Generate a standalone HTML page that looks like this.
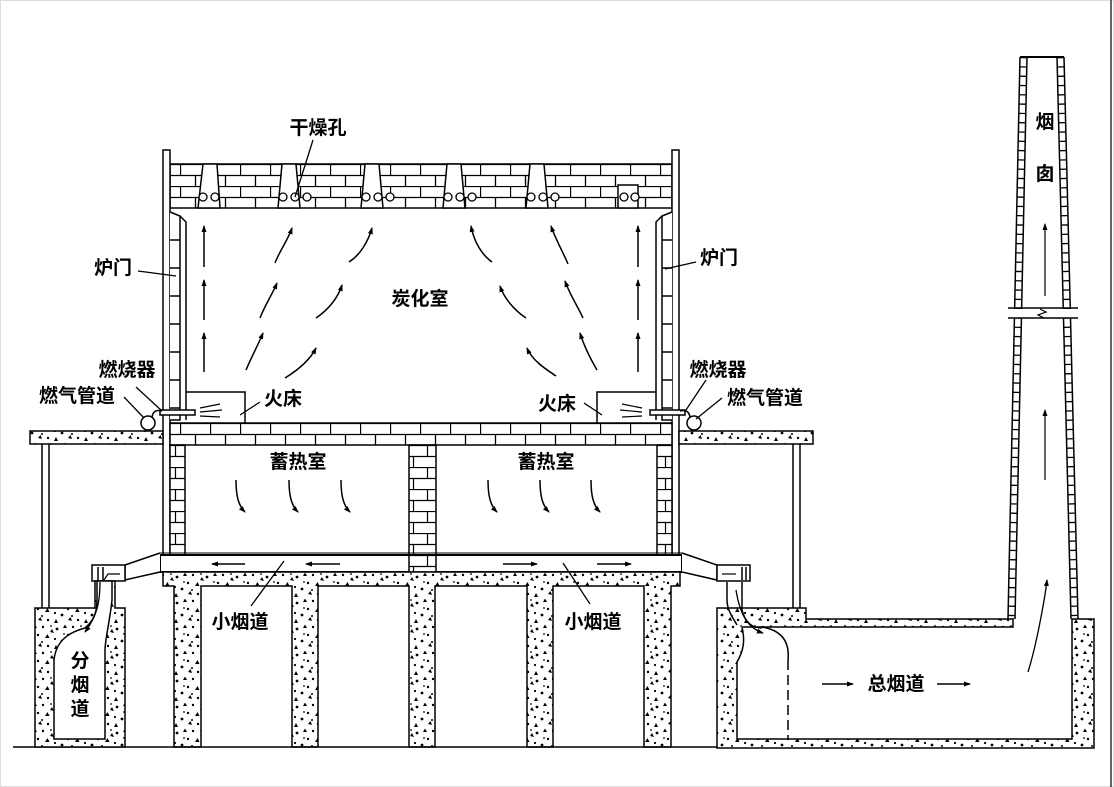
<!DOCTYPE html>
<html><head><meta charset="utf-8"><style>
html,body{margin:0;padding:0;background:#fff;}
svg{display:block}
text{font-family:"Liberation Sans","Noto Sans CJK SC","WenQuanYi Zen Hei",sans-serif;font-weight:bold;font-size:19px;fill:#000}
</style></head><body>
<svg width="1114" height="787" viewBox="0 0 1114 787" xmlns="http://www.w3.org/2000/svg">
<defs>
<pattern id="brick" width="30" height="22" patternUnits="userSpaceOnUse" y="164">
<rect width="30" height="22" fill="#fff"/>
<path d="M0 0.5H30M0 11.5H30M0.5 0V11M15.5 11V22" stroke="#000" stroke-width="1.3" fill="none"/>
</pattern>
<pattern id="brick2" width="30" height="22" patternUnits="userSpaceOnUse" y="423">
<rect width="30" height="22" fill="#fff"/>
<path d="M0 0.5H30M0 11.5H30M0.5 0V11M15.5 11V22" stroke="#000" stroke-width="1.3" fill="none"/>
</pattern>
<pattern id="vbrick" width="28" height="22" patternUnits="userSpaceOnUse" x="0" y="445">
<rect width="28" height="22" fill="#fff"/>
<path d="M0 0.5H28M0 11.5H28M7.5 0V11M21.5 11V22" stroke="#000" stroke-width="1.2" fill="none"/>
</pattern>
<pattern id="conc" width="30" height="26" patternUnits="userSpaceOnUse">
<rect width="30" height="26" fill="#fff"/>
<g fill="#000">
<path d="M3 4l4 0-2-3.5z"/><circle cx="13" cy="3" r="1.2"/><path d="M20 8l4 1-2-4z"/><circle cx="27" cy="5" r="1.4"/>
<circle cx="8" cy="11" r="1.2"/><path d="M15 14l4.5 0-2-4z"/><circle cx="25" cy="15" r="1.1"/><circle cx="2" cy="17" r="1.4"/>
<path d="M8 22l4 1-1.5-4z"/><circle cx="18" cy="22" r="1.2"/><path d="M24 25l4 0-2-4z"/><circle cx="12" cy="18" r="1"/>
<circle cx="4" cy="10" r="0.9"/><circle cx="21" cy="2" r="0.9"/>
</g>
</pattern>
<marker id="ah" markerWidth="8" markerHeight="8" refX="6" refY="4" orient="auto" markerUnits="userSpaceOnUse">
<path d="M0 1.5L7 4L0 6.5z" fill="#000"/>
</marker>
</defs>

<rect x="0.5" y="0.5" width="1113" height="786" fill="none" stroke="#ddd"/>
<line x1="1111" y1="0" x2="1111" y2="787" stroke="#333" stroke-width="1.5"/>

<g stroke="#000" stroke-width="1.5" fill="none">
<rect x="170" y="164" width="502" height="44" fill="url(#brick)"/>
<g fill="#fff">
<path d="M203 164H217L220 208H198Z"/>
<path d="M282 164H296L300 208H278Z"/>
<path d="M365 164H379L383 208H361Z"/>
<path d="M447 164H461L465 208H443Z"/>
<path d="M530 164H544L548 208H526Z"/>
<path d="M618 185H638V208H618Z"/>
</g>
<g fill="#fff" stroke-width="1.3">
<circle cx="203" cy="197" r="4"/><circle cx="215" cy="197" r="4"/>
<circle cx="283" cy="197" r="4"/><circle cx="295" cy="197" r="4"/><circle cx="307" cy="197" r="4"/>
<circle cx="366" cy="197" r="4"/><circle cx="378" cy="197" r="4"/><circle cx="390" cy="197" r="4"/>
<circle cx="448" cy="197" r="4"/><circle cx="460" cy="197" r="4"/><circle cx="472" cy="197" r="4"/>
<circle cx="531" cy="197" r="4"/><circle cx="543" cy="197" r="4"/><circle cx="555" cy="197" r="4"/>
<circle cx="624" cy="197" r="4"/><circle cx="635" cy="197" r="4"/>
</g>
<rect x="163" y="150" width="7" height="405" fill="#fff"/>
<rect x="672" y="150" width="7" height="405" fill="#fff"/>
<path d="M170 212L180 216V420H170" fill="#fff"/>
<path d="M180 216L186 222V420"/>
<path d="M672 212L662 216V420H672" fill="#fff"/>
<path d="M662 216L656 222V420"/>
<path d="M170 240H180M170 268H180M170 296H180M170 324H180M170 352H180M170 380H180M170 408H180"/>
<path d="M662 240H672M662 268H672M662 296H672M662 324H672M662 352H672M662 380H672M662 408H672"/>
<path d="M186 392H245V423"/>
<path d="M656 392H597V423"/>
<rect x="160" y="410" width="35" height="5" fill="#fff"/>
<rect x="650" y="410" width="35" height="5" fill="#fff"/>
<path d="M200 408L220 404M200 412L222 410M200 416L220 417" stroke-width="1.2"/>
<path d="M642 408L622 404M642 412L620 410M642 416L622 417" stroke-width="1.2"/>
<circle cx="148" cy="423" r="7" fill="#fff"/>
<circle cx="694" cy="423" r="7" fill="#fff"/>
<path d="M152 417C153 410 158 410 162 411"/><path d="M690 417C689 410 684 410 680 411"/>
<rect x="30" y="431" width="133" height="13" fill="url(#conc)"/>
<rect x="679" y="431" width="134" height="13" fill="url(#conc)"/>
<rect x="170" y="423" width="502" height="22" fill="url(#brick2)"/>
<path d="M42 444V608M49 444V608M793 444V608M800 444V608"/>
<rect x="170" y="445" width="15" height="110" fill="url(#vbrick)"/>
<rect x="409" y="445" width="27" height="110" fill="url(#vbrick)"/>
<rect x="657" y="445" width="15" height="110" fill="url(#vbrick)"/>
<rect x="160" y="555" width="522" height="17" fill="#fff" stroke-width="2"/>
<path d="M160 553H682" stroke-width="1"/>
<rect x="409" y="555" width="27" height="17" fill="url(#vbrick)"/>
<path d="M163 572H680V586H671V747H644V586H553V747H527V586H435V747H409V586H318V747H292V586H201V747H174V586H163Z" fill="url(#conc)"/>
<line x1="13" y1="747" x2="720" y2="747"/>
<path d="M160 553L125 565V580L160 572" fill="#fff"/>
<rect x="92" y="565" width="33" height="16" fill="#fff"/>
<path d="M98 567V580M103 567V580"/>
<path d="M120 574H108L104 580" stroke-width="1.2"/>
<path d="M35 608H95V581H115V608H125V747H35Z" fill="url(#conc)"/>
<path d="M97 581V600C97 615 92 622 85 628C70 632 56 640 54 660V739H105V650C105 640 110 620 112 600V581Z" fill="#fff"/>
<path d="M100 582C100 600 98 615 85 632" marker-end="url(#ah)" stroke-width="1.3"/>
<path d="M682 553L717 565V580L682 572" fill="#fff"/>
<rect x="717" y="565" width="33" height="16" fill="#fff"/>
<path d="M742 567V580M746 567V580"/>
<path d="M722 574H736" stroke-width="1.2"/>
<!-- main flue -->
<path d="M717 608H806V619H1013V619H1072V619H1094V748H717Z" fill="url(#conc)"/>
<path d="M737 739V662C744 650 745 640 742 627H1013V619H1072V739Z" fill="#fff" stroke="none"/>
<path d="M737 662V739H1072V619M742 627H1013V619"/>
<path d="M737 662C744 650 745 640 742 627"/>
<path d="M762 627C780 630 790 640 788 660"/>
<path d="M788 660V739" stroke-dasharray="10 5"/>
<path d="M727 582V600C727 610 733 618 737 625"/>
<path d="M742 582V610C745 622 752 628 762 628"/>
<path d="M736 590C740 615 748 628 763 633" marker-end="url(#ah)" stroke-width="1.3"/>
<!-- chimney -->
<rect x="1015" y="600" width="56" height="22" fill="#fff" stroke="none"/>
<path d="M1020 57L1008 619M1064 57L1078 619" stroke-width="1.5"/>
<path d="M1027 57L1015 619M1057 57L1071 619"/>
<path d="M1020 57H1064" stroke-width="2"/>
<path d="M1023.5 57L1011.5 618M1060.5 57L1074.5 618" stroke-width="6" stroke-dasharray="1.3 8"/>
<rect x="1000" y="309" width="86" height="9" fill="#fff" stroke="none"/>
<path d="M1008 308H1078M1008 318H1078"/>
<path d="M1040 309L1046 312L1038 315L1044 318" stroke-width="1.2"/>
<path d="M1045 296V224" marker-end="url(#ah)" stroke-width="1.2"/>
<path d="M1045 480V410" marker-end="url(#ah)" stroke-width="1.2"/>
<path d="M1028 672C1038 640 1046 590 1047 580" marker-end="url(#ah)" stroke-width="1.3"/>
</g>

<g stroke="#000" stroke-width="1.5" fill="none" marker-end="url(#ah)">
<path d="M204 267V226"/><path d="M204 320V280"/><path d="M204 372V333"/>
<path d="M638 267V226"/><path d="M638 320V280"/><path d="M638 372V333"/>
<path d="M275 263C280 250 288 240 292 228"/><path d="M260 318C265 305 272 295 277 283"/><path d="M246 370C252 356 258 345 263 333"/>
<path d="M349 262C360 255 368 242 372 228"/><path d="M316 318C328 310 338 298 342 285"/><path d="M285 378C298 370 310 360 316 348"/>
<path d="M492 262C482 255 474 242 471 226"/><path d="M526 318C514 310 504 298 500 286"/><path d="M556 376C544 368 532 360 527 348"/>
<path d="M568 264C562 250 555 238 551 226"/><path d="M583 318C577 305 570 295 565 281"/><path d="M597 370C590 358 584 346 580 333"/>
<path d="M236 480C236 495 238 505 245 512"/><path d="M289 480C289 495 291 505 298 512"/><path d="M341 480C341 495 343 505 350 512"/>
<path d="M488 480C488 495 490 505 497 512"/><path d="M540 480C540 495 542 505 549 512"/><path d="M591 480C591 495 593 505 600 512"/>
<path d="M245 564H212"/><path d="M340 564H306"/><path d="M503 564H537"/><path d="M597 564H631"/>
<path d="M822 684H853"/><path d="M937 684H970"/>
</g>

<g stroke="#000" stroke-width="1.3" fill="none">
<path d="M313 140L295 197"/>
<path d="M138 271L176 276"/>
<path d="M696 262L665 269"/>
<path d="M136 387L162 411"/>
<path d="M124 397L144 418"/>
<path d="M706 380L686 410"/>
<path d="M722 398L696 419"/>
<path d="M260 402L240 415"/>
<path d="M584 403L602 415"/>
<path d="M284 561L251 606"/>
<path d="M563 563L590 604"/>
</g>

<text x="318" y="134" text-anchor="middle">干燥孔</text>
<text x="113" y="274" text-anchor="middle">炉门</text>
<text x="719" y="264" text-anchor="middle">炉门</text>
<text x="420" y="305" text-anchor="middle">炭化室</text>
<text x="127" y="376" text-anchor="middle">燃烧器</text>
<text x="77" y="402" text-anchor="middle">燃气管道</text>
<text x="718" y="376" text-anchor="middle">燃烧器</text>
<text x="765" y="404" text-anchor="middle">燃气管道</text>
<text x="283" y="405" text-anchor="middle">火床</text>
<text x="557" y="410" text-anchor="middle">火床</text>
<text x="298" y="468" text-anchor="middle">蓄热室</text>
<text x="546" y="468" text-anchor="middle">蓄热室</text>
<text x="240" y="628" text-anchor="middle">小烟道</text>
<text x="593" y="628" text-anchor="middle">小烟道</text>
<text x="80" y="667" text-anchor="middle">分</text>
<text x="80" y="691" text-anchor="middle">烟</text>
<text x="80" y="715" text-anchor="middle">道</text>
<text x="896" y="690" text-anchor="middle">总烟道</text>
<text x="1045" y="128" text-anchor="middle">烟</text>
<text x="1045" y="180" text-anchor="middle">囱</text>
</svg>
</body></html>
